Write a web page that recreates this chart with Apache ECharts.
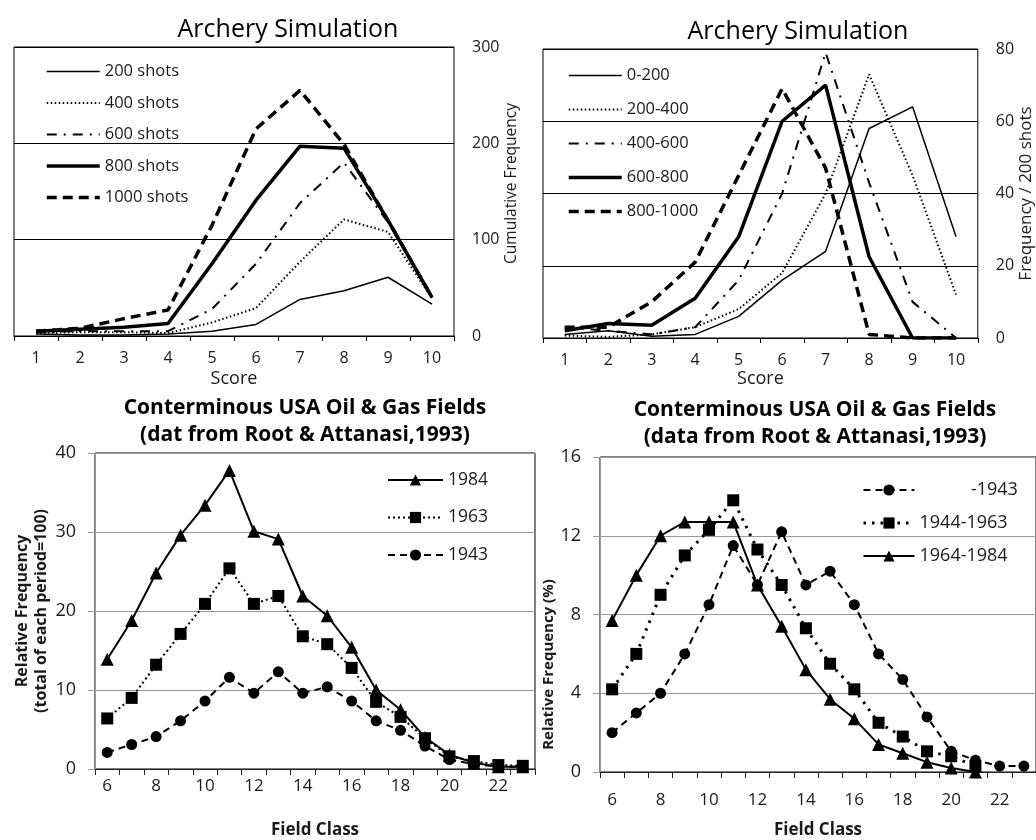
<!DOCTYPE html>
<html><head><meta charset="utf-8">
<script src="https://cdn.jsdelivr.net/npm/echarts@6/dist/echarts.min.js"></script>
<style>html,body{margin:0;padding:0;background:#fff}#c{width:1036px;height:840px}</style>
</head><body><div id="c"></div>
<script>
// ---- Panel 1: Archery, cumulative ----
const scores = ['1','2','3','4','5','6','7','8','9','10'];
const shots200  = [2, 1, 1, 2, 5, 12, 38, 47, 61, 33];
const shots400  = [3, 4, 4, 3, 14, 29, 77, 121, 108, 39];
const shots600  = [4, 5, 5, 5, 28, 75, 138, 180, 118, 40];
const shots800  = [5, 7, 9, 13, 75, 141, 197, 195, 120, 40];
const shots1000 = [5, 8, 18, 27, 115, 215, 255, 199, 120, 40];
const cumTicks = [0, 100, 200, 300];
// ---- Panel 2: Archery, per 200 shots ----
const f0_200    = [1, 2, 0.5, 1, 6, 16, 24, 58, 64, 28];
const f200_400  = [0.7, 0.3, 1, 3, 8, 18, 40, 73, 45, 12];
const f400_600  = [3, 2, 1, 3, 16, 40, 79, 43, 10, 0];
const f600_800  = [2, 4, 3.5, 11, 28, 60, 70, 22.5, 0, 0];
const f800_1000 = [3, 3, 10, 21, 45, 69, 47, 1, 0, 0];
// ---- Panel 3: Oil & gas, cumulative by period ----
const fieldClass = ['6','7','8','9','10','11','12','13','14','15','16','17','18','19','20','21','22','23'];
const y1984 = [13.9, 18.8, 24.8, 29.6, 33.4, 37.8, 30.1, 29.1, 21.9, 19.4, 15.4, 10, 7.5, 4, 1.8, 0.8, 0.3, 0.3];
const y1963 = [6.4, 9.0, 13.2, 17.1, 20.9, 25.4, 20.9, 21.9, 16.8, 15.8, 12.8, 8.5, 6.6, 3.9, 1.6, 1.0, 0.5, 0.4];
const y1943 = [2.1, 3.1, 4.1, 6.1, 8.6, 11.6, 9.6, 12.3, 9.6, 10.4, 8.6, 6.1, 4.9, 2.9, 1.2, 0.6, 0.3, 0.3];
// ---- Panel 4: Oil & gas, by period ----
const p1943      = [2.0, 3.0, 4.0, 6.0, 8.5, 11.5, 9.5, 12.2, 9.5, 10.2, 8.5, 6.0, 4.7, 2.8, 1.05, 0.6, 0.3, 0.3];
const p1944_1963 = [4.2, 6.0, 9.0, 11.0, 12.3, 13.8, 11.3, 9.5, 7.3, 5.5, 4.2, 2.5, 1.8, 1.05, 0.8, 0.3, null, null];
const p1964_1984 = [7.7, 10.0, 12.0, 12.7, 12.7, 12.7, 9.5, 7.4, 5.2, 3.7, 2.7, 1.4, 0.95, 0.5, 0.2, 0, null, null];

const FONT = 'Open Sans';
const TXT = '#1a1a1a';
const chart = echarts.init(document.getElementById('c'), null, {renderer: 'canvas'});

// line styles shared by series and legend items
const ST = {
  thin:   {width: 1.5, type: 'solid'},
  dot:    {width: 2, type: [1.5, 2.5]},
  dashdot:{width: 2, type: [10, 7, 2, 7]},
  thick:  {width: 3.5, type: 'solid'},
  thdash: {width: 3.5, type: [10, 6]},
  s2:     {width: 2, type: 'solid'},
  d2:     {width: 2, type: [2, 3]},
  da2:    {width: 2, type: [7, 5]},
  d3:     {width: 3, type: [2.5, 6]}
};

function lineS(name, data, xi, style, extra) {
  return Object.assign({
    name: name, type: 'line', data: data, xAxisIndex: xi, yAxisIndex: xi,
    symbol: 'none', color: '#000', animation: false, connectNulls: false,
    lineStyle: Object.assign({color: '#000'}, style)
  }, extra || {});
}
function li(name, style) { return {name: name, lineStyle: Object.assign({color: '#000'}, style)}; }
const hideSym = {opacity: 0, color: 'transparent', borderWidth: 0};

const option = {
  animation: false,
  textStyle: {fontFamily: FONT, color: TXT},
  title: [
    {text: 'Archery Simulation', left: 288, top: 17, textAlign: 'center', padding: 0,
     textStyle: {fontFamily: FONT, fontSize: 25, fontWeight: 'normal', color: '#000'}},
    {text: 'Archery Simulation', left: 798, top: 19, textAlign: 'center', padding: 0,
     textStyle: {fontFamily: FONT, fontSize: 25, fontWeight: 'normal', color: '#000'}},
    {text: 'Conterminous USA Oil & Gas Fields\n(dat from Root & Attanasi,1993)', left: 305, top: 395, textAlign: 'center', padding: 0,
     textStyle: {fontFamily: FONT, fontSize: 21, fontWeight: 'bold', color: '#000', lineHeight: 27}},
    {text: 'Conterminous USA Oil & Gas Fields\n(data from Root & Attanasi,1993)', left: 815, top: 397, textAlign: 'center', padding: 0,
     textStyle: {fontFamily: FONT, fontSize: 21, fontWeight: 'bold', color: '#000', lineHeight: 27}}
  ],
  grid: [
    {left: 14, top: 47, width: 440, height: 289, show: true, borderColor: '#000', borderWidth: 1},
    {left: 543, top: 49, width: 439, height: 289, show: true, borderColor: '#000', borderWidth: 1},
    {left: 95, top: 453, width: 440, height: 318, show: true, borderColor: '#000', borderWidth: 1},
    {left: 600, top: 457, width: 440, height: 317, show: true, borderColor: '#000', borderWidth: 1}
  ],
  xAxis: [
    {type: 'category', gridIndex: 0, data: scores, boundaryGap: true,
     axisLine: {lineStyle: {color: '#000'}}, axisTick: {show: true, length: 5, interval: 0, lineStyle: {color: '#000'}},
     axisLabel: {fontSize: 16, color: TXT, margin: 14, fontFamily: FONT},
     name: 'Score', nameLocation: 'middle', nameGap: 34, nameTextStyle: {fontSize: 18, color: TXT, fontFamily: FONT}},
    {type: 'category', gridIndex: 1, data: scores, boundaryGap: true,
     axisLine: {lineStyle: {color: '#000'}}, axisTick: {show: true, length: 5, interval: 0, lineStyle: {color: '#000'}},
     axisLabel: {fontSize: 16, color: TXT, margin: 14, fontFamily: FONT},
     name: 'Score', nameLocation: 'middle', nameGap: 32, nameTextStyle: {fontSize: 18, color: TXT, fontFamily: FONT}},
    {type: 'category', gridIndex: 2, data: fieldClass, boundaryGap: true,
     axisLine: {lineStyle: {color: '#222'}}, axisTick: {show: true, length: 6, interval: 0, lineStyle: {color: '#222'}},
     axisLabel: {fontSize: 17, color: TXT, margin: 9, interval: 1, fontFamily: FONT},
     name: 'Field Class', nameLocation: 'middle', nameGap: 53, nameTextStyle: {fontSize: 17, fontWeight: 'bold', color: TXT, fontFamily: FONT}},
    {type: 'category', gridIndex: 3, data: fieldClass, boundaryGap: true,
     axisLine: {lineStyle: {color: '#222'}}, axisTick: {show: true, length: 6, interval: 0, lineStyle: {color: '#222'}},
     axisLabel: {fontSize: 17, color: TXT, margin: 20, interval: 1, fontFamily: FONT},
     name: 'Field Class', nameLocation: 'middle', nameGap: 50, nameTextStyle: {fontSize: 17, fontWeight: 'bold', color: TXT, fontFamily: FONT}}
  ],
  yAxis: [
    {type: 'value', gridIndex: 0, position: 'right', min: cumTicks[0], max: cumTicks[cumTicks.length - 1], interval: 100,
     axisLine: {show: false}, axisTick: {show: false},
     splitLine: {show: true, lineStyle: {color: '#000', width: 1}},
     axisLabel: {fontSize: 16, color: TXT, margin: 18, fontFamily: FONT},
     name: 'Cumulative Frequency', nameLocation: 'middle', nameGap: 50,
     nameTextStyle: {fontSize: 15.5, color: TXT, fontFamily: FONT, padding: [0, 0, 0, 16]}},
    {type: 'value', gridIndex: 1, position: 'right', min: 0, max: 80, interval: 20,
     axisLine: {show: false}, axisTick: {show: false},
     splitLine: {show: true, lineStyle: {color: '#000', width: 1}},
     axisLabel: {fontSize: 16, color: TXT, margin: 18, fontFamily: FONT},
     name: 'Frequency / 200 shots', nameLocation: 'middle', nameGap: 38,
     nameTextStyle: {fontSize: 17, color: TXT, fontFamily: FONT}},
    {type: 'value', gridIndex: 2, min: 0, max: 40, interval: 10,
     axisLine: {show: true, lineStyle: {color: '#999'}}, axisTick: {show: true, length: 7, lineStyle: {color: '#999'}},
     splitLine: {show: true, lineStyle: {color: '#999', width: 1}},
     axisLabel: {fontSize: 18, color: TXT, margin: 19, fontFamily: FONT},
     name: 'Relative Frequency\n(total of each period=100)', nameLocation: 'middle', nameGap: 44,
     nameTextStyle: {fontSize: 16, fontWeight: 'bold', color: TXT, fontFamily: FONT, lineHeight: 19}},
    {type: 'value', gridIndex: 3, min: 0, max: 16, interval: 4,
     axisLine: {show: true, lineStyle: {color: '#999'}}, axisTick: {show: true, length: 7, lineStyle: {color: '#999'}},
     splitLine: {show: true, lineStyle: {color: '#999', width: 1}},
     axisLabel: {fontSize: 18, color: TXT, margin: 19, fontFamily: FONT},
     name: 'Relative Frequency (%)', nameLocation: 'middle', nameGap: 28,
     nameTextStyle: {fontSize: 15, fontWeight: 'bold', color: TXT, fontFamily: FONT, padding: [0, 100, 0, 0]}}
  ],
  legend: [
    {orient: 'vertical', left: 45, top: 63, itemWidth: 53, itemHeight: 14, itemGap: 14.5, itemTextGap: 7, padding: 0,
     data: [li('200 shots', ST.thin), li('400 shots', ST.dot), li('600 shots', ST.dashdot), li('800 shots', ST.thick), li('1000 shots', ST.thdash)],
     itemStyle: hideSym,
     textStyle: {fontSize: 16.5, color: TXT, fontFamily: FONT}, selectedMode: false},
    {orient: 'vertical', left: 567, top: 67, itemWidth: 53, itemHeight: 14, itemGap: 17, itemTextGap: 7, padding: 0,
     data: [li('0-200', ST.thin), li('200-400', ST.dot), li('400-600', ST.dashdot), li('600-800', ST.thick), li('800-1000', ST.thdash)],
     itemStyle: hideSym,
     textStyle: {fontSize: 16.5, color: TXT, fontFamily: FONT}, selectedMode: false},
    {orient: 'vertical', left: 387, top: 471, itemWidth: 55, itemHeight: 14, itemGap: 19.5, itemTextGap: 6, padding: 0,
     data: [li('1984', ST.s2), li('1963', ST.d2), li('1943', ST.da2)],
     textStyle: {fontSize: 17.5, color: TXT, fontFamily: FONT}, selectedMode: false},
    {orient: 'vertical', left: 862, top: 481, itemWidth: 51, itemHeight: 14, itemGap: 15, itemTextGap: 10, padding: 0,
     data: [li('-1943', ST.da2), li('1944-1963', ST.d3), li('1964-1984', ST.s2)],
     formatter: function (n) { return n === '-1943' ? '           -1943' : n; },
     textStyle: {fontSize: 18, color: TXT, fontFamily: FONT}, selectedMode: false}
  ],
  series: [
    lineS('200 shots', shots200, 0, ST.thin),
    lineS('400 shots', shots400, 0, ST.dot),
    lineS('600 shots', shots600, 0, ST.dashdot),
    lineS('800 shots', shots800, 0, ST.thick),
    lineS('1000 shots', shots1000, 0, ST.thdash),

    lineS('0-200', f0_200, 1, ST.thin),
    lineS('200-400', f200_400, 1, ST.dot),
    lineS('400-600', f400_600, 1, ST.dashdot),
    lineS('600-800', f600_800, 1, ST.thick),
    lineS('800-1000', f800_1000, 1, ST.thdash),

    lineS('1984', y1984, 2, ST.s2, {symbol: 'triangle', symbolSize: 13, showSymbol: true, itemStyle: {color: '#000'}}),
    lineS('1963', y1963, 2, ST.d2, {symbol: 'rect', symbolSize: 12, showSymbol: true, itemStyle: {color: '#000'}}),
    lineS('1943', y1943, 2, ST.da2, {symbol: 'circle', symbolSize: 11, showSymbol: true, itemStyle: {color: '#000'}}),

    lineS('-1943', p1943, 3, ST.da2, {symbol: 'circle', symbolSize: 11, showSymbol: true, itemStyle: {color: '#000'}}),
    lineS('1944-1963', p1944_1963, 3, ST.d3, {symbol: 'rect', symbolSize: 12, showSymbol: true, itemStyle: {color: '#000'}}),
    lineS('1964-1984', p1964_1984, 3, ST.s2, {symbol: 'triangle', symbolSize: 13, showSymbol: true, itemStyle: {color: '#000'}})
  ]
};
chart.setOption(option);
</script>
</body></html>
